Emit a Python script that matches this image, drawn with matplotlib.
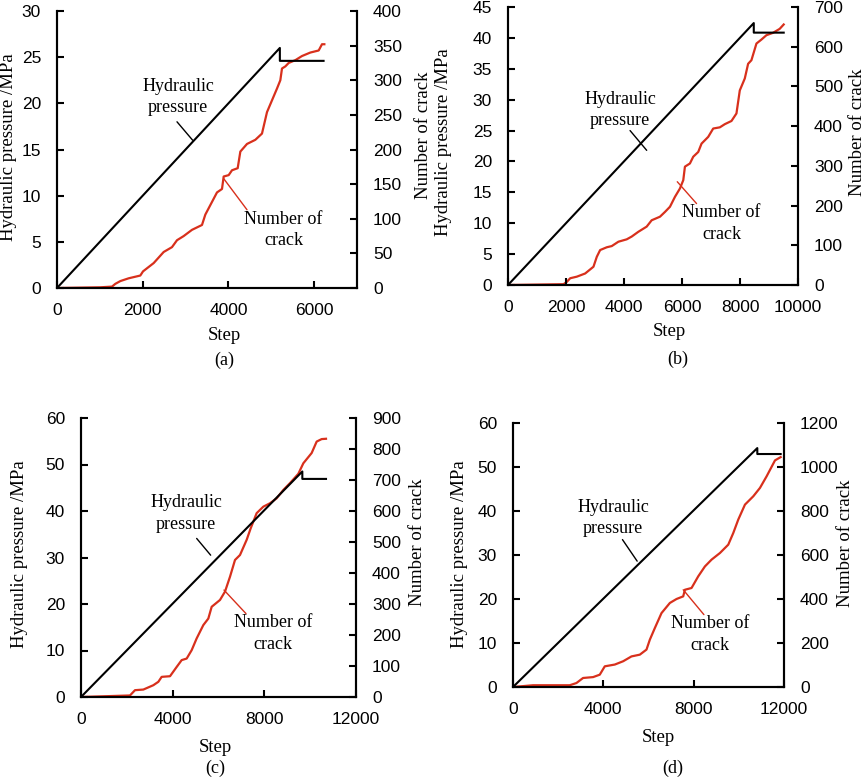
import matplotlib
matplotlib.use("Agg")
import matplotlib.pyplot as plt
from matplotlib import font_manager

plt.rcParams['font.family'] = ['Liberation Sans', 'DejaVu Sans']
plt.rcParams['font.serif'] = ['Liberation Serif', 'DejaVu Serif']
# pick the Times-like face directly so labels really come out serif
try:
    SERIF_FP = font_manager.FontProperties(
        fname=font_manager.findfont(font_manager.FontProperties(family='Liberation Serif'),
                                    fallback_to_default=False))
except Exception:
    SERIF_FP = font_manager.FontProperties(family='serif')
RED = '#d8301c'

W, H = 865, 778

# ---- panel (a) ----
a_press_step = [0, 5200, 5200, 6220]
a_press = [0, 26.0, 24.6, 24.6]
a_crack_step = [0, 1011, 1283, 1361, 1478, 1672, 1944, 2007, 2256, 2489, 2683, 2800,
                2956, 3150, 3383, 3461, 3733, 3850, 3889, 4006, 4083, 4216, 4278, 4433,
                4628, 4783, 4900, 5133, 5211, 5250, 5328, 5406, 5561, 5717, 5911, 6106,
                6183, 6238]
a_crack = [0, 1, 2, 6, 10, 14, 18, 24, 36, 52, 59, 69, 75, 84, 91, 106, 138, 143, 161,
           163, 170, 173, 197, 208, 214, 223, 254, 288, 300, 317, 320, 325, 329, 335,
           340, 343, 352, 352]

# ---- panel (b) ----
b_press_step = [0, 8475, 8475, 9507]
b_press = [0, 42.4, 40.85, 40.85]
b_crack_step = [0, 1915, 2030, 2144, 2374, 2661, 2947, 3062, 3177, 3406, 3578, 3807,
                4094, 4266, 4495, 4782, 4954, 5241, 5413, 5585, 5757, 5929, 6044, 6101,
                6273, 6388, 6560, 6674, 6904, 7076, 7305, 7477, 7706, 7878, 7993, 8165,
                8280, 8394, 8567, 8739, 8911, 9140, 9369, 9507]
b_crack = [0, 2, 8, 17, 21, 29, 46, 71, 88, 95, 98, 109, 115, 122, 134, 147, 163, 172,
           184, 197, 222, 243, 264, 298, 306, 323, 335, 356, 373, 394, 397, 405, 413,
           432, 490, 520, 557, 566, 608, 618, 629, 635, 645, 656]

# ---- panel (c) ----
c_press_step = [0, 9658, 9658, 10691]
c_press = [0, 48.5, 46.9, 46.9]
c_crack_step = [0, 2138, 2356, 2720, 3156, 3375, 3520, 3884, 4175, 4393, 4611, 4829,
                5047, 5338, 5556, 5702, 6065, 6284, 6502, 6720, 6938, 7229, 7404, 7665,
                7956, 8247, 8538, 8829, 9120, 9484, 9702, 10065, 10284, 10502, 10691]
c_crack = [0, 5, 22, 24, 38, 49, 65, 67, 97, 119, 124, 151, 189, 232, 253, 291, 313,
           340, 388, 442, 458, 507, 544, 593, 614, 625, 641, 668, 690, 720, 754, 787,
           824, 832, 833]

# ---- panel (d) ----
d_press_step = [0, 10818, 10818, 11852]
d_press = [0, 54.3, 52.95, 52.95]
d_crack_step = [0, 887, 2512, 2808, 3103, 3547, 3842, 4064, 4507, 4877, 5246, 5616,
                5911, 6059, 6281, 6576, 6946, 7241, 7537, 7611, 7906, 8202, 8498, 8793,
                9163, 9532, 9754, 9975, 10271, 10641, 10936, 11232, 11601, 11852]
d_crack = [0, 8, 8, 18, 41, 45, 56, 94, 102, 117, 139, 147, 170, 215, 268, 336, 382,
           400, 412, 442, 450, 503, 548, 579, 609, 647, 700, 761, 829, 867, 905, 958,
           1030, 1045]

panels = [
    dict(box=(57, 357, 11, 288), xlim=7000, xticks=[0, 2000, 4000, 6000],
         ylim=30, yticks=range(0, 31, 5), y2lim=400, y2ticks=range(0, 401, 50),
         ps=a_press_step, p=a_press, cs=a_crack_step, c=a_crack,
         htext=(2823, 20.7), hline=((2800, 18.0), (3166, 16.0)),
         ntext=(5289, 84), nline=((4433, 113), (3889, 158)),
         ylab=(9, 147), y2lab=(424, 135), step=(224, 335), cap=(224, 360), name='(a)'),
    dict(box=(508, 798, 7, 285), xlim=10000, xticks=range(0, 10001, 2000),
         ylim=45, yticks=range(0, 46, 5), y2lim=700, y2ticks=range(0, 701, 100),
         ps=b_press_step, p=b_press, cs=b_crack_step, c=b_crack,
         htext=(3865, 28.3), hline=((4209, 25.0), (4782, 21.8)),
         ntext=(7362, 155), nline=((6502, 205), (5837, 260)),
         ylab=(443, 142), y2lab=(857, 132), step=(669, 332), cap=(678, 359), name='(b)'),
    dict(box=(81, 356, 418, 697), xlim=12000, xticks=range(0, 12001, 4000),
         ylim=60, yticks=range(0, 61, 10), y2lim=900, y2ticks=range(0, 901, 100),
         ps=c_press_step, p=c_press, cs=c_crack_step, c=c_crack,
         htext=(4582, 39.5), hline=((5047, 34.1), (5658, 30.5)),
         ntext=(8393, 205), nline=((7200, 269), (6240, 345)),
         ylab=(20, 554), y2lab=(418, 542), step=(215, 747), cap=(215, 768), name='(c)'),
    dict(box=(513, 784, 423, 687), xlim=12000, xticks=range(0, 12001, 4000),
         ylim=60, yticks=range(0, 61, 10), y2lim=1200, y2ticks=range(0, 1201, 200),
         ps=d_press_step, p=d_press, cs=d_crack_step, c=d_crack,
         htext=(4433, 38.4), hline=((4847, 33.5), (5498, 28.6)),
         ntext=(8719, 238), nline=((8453, 329), (7537, 442)),
         ylab=(460, 554), y2lab=(845, 543), step=(658, 738), cap=(673, 768), name='(d)'),
]

fig = plt.figure(figsize=(W / 100, H / 100), dpi=100)


def fx(px):
    return px / W


def fy(py):
    return 1 - py / H


def serif(size):
    fp = SERIF_FP.copy()
    fp.set_size(size)
    return fp


for pn in panels:
    x0, x1, y0, y1 = pn['box']
    ax = fig.add_axes([fx(x0), fy(y1), (x1 - x0) / W, (y1 - y0) / H])
    ax2 = ax.twinx()
    ax.plot(pn['ps'], pn['p'], color='black', lw=1.5, zorder=3)
    ax2.plot(pn['cs'], pn['c'], color=RED, lw=1.6)
    ax.set_zorder(ax2.get_zorder() + 1)
    ax.patch.set_visible(False)

    ax.set_xlim(0, pn['xlim'])
    ax.set_ylim(0, pn['ylim'])
    ax2.set_ylim(0, pn['y2lim'])
    ax.set_xticks(list(pn['xticks']))
    ax.set_yticks(list(pn['yticks']))
    ax2.set_yticks(list(pn['y2ticks']))
    for a in (ax, ax2):
        a.spines['top'].set_visible(False)
        for s in ('left', 'right', 'bottom'):
            a.spines[s].set_linewidth(1.5)
        a.tick_params(direction='in', length=5, width=1.5, labelsize=12.5)
    ax.xaxis.set_tick_params(pad=11)
    ax.yaxis.set_tick_params(pad=11.5)
    ax2.yaxis.set_tick_params(pad=11.5)

    ax.text(*pn['htext'], 'Hydraulic\npressure', fontproperties=serif(13),
            ha='center', va='center', linespacing=1.35)
    ax.annotate('', xy=pn['hline'][1], xytext=pn['hline'][0],
                arrowprops=dict(arrowstyle='-', color='black', lw=1,
                                shrinkA=0, shrinkB=0))
    ax2.text(*pn['ntext'], 'Number of\ncrack', fontproperties=serif(13),
             ha='center', va='center', linespacing=1.35)
    ax2.annotate('', xy=pn['nline'][1], xytext=pn['nline'][0],
                 arrowprops=dict(arrowstyle='-', color=RED, lw=1,
                                 shrinkA=0, shrinkB=0))

    fig.text(fx(pn['ylab'][0]), fy(pn['ylab'][1]), 'Hydraulic pressure /MPa',
             fontproperties=serif(13.5), rotation=90, ha='center', va='center')
    fig.text(fx(pn['y2lab'][0]), fy(pn['y2lab'][1]), 'Number of crack',
             fontproperties=serif(13.5), rotation=90, ha='center', va='center')
    fig.text(fx(pn['step'][0]), fy(pn['step'][1]), 'Step',
             fontproperties=serif(13.5), ha='center', va='center')
    fig.text(fx(pn['cap'][0]), fy(pn['cap'][1]), pn['name'],
             fontproperties=serif(13), ha='center', va='center')

fig.savefig('out.png', dpi=100)
